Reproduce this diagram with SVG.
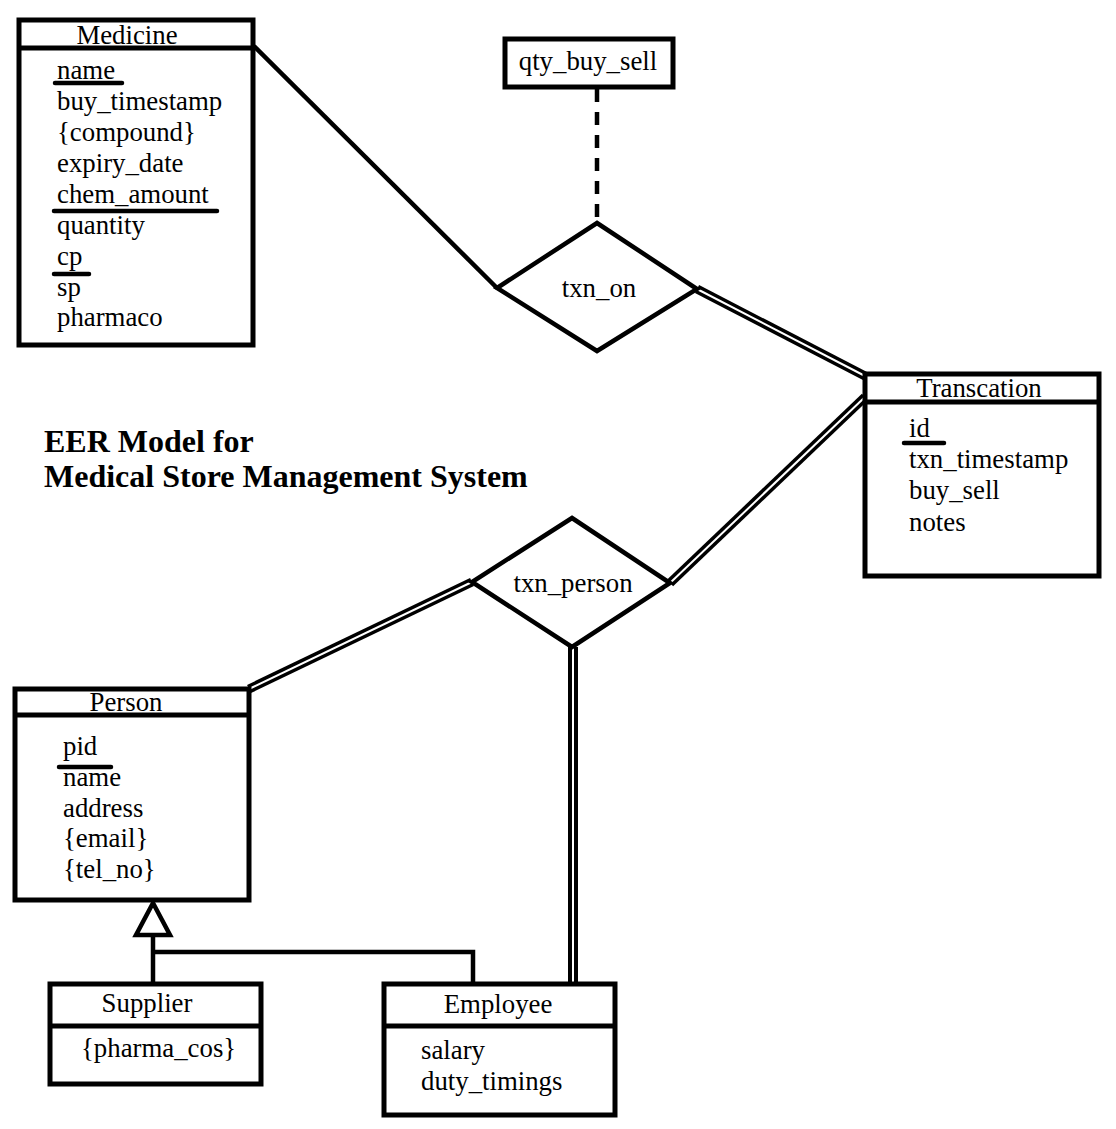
<svg xmlns="http://www.w3.org/2000/svg" width="1116" height="1129" viewBox="0 0 1116 1129">
<style>
.box{fill:#fff;stroke:#000;stroke-width:5}
.div{stroke:#000;stroke-width:5}
.rel{fill:#fff;stroke:#000;stroke-width:4.5;stroke-linejoin:miter}
.t{font-family:"Liberation Serif","Times New Roman",serif;font-size:26.8px;fill:#000}
.c{text-anchor:middle}
.ttl{font-family:"Liberation Serif","Times New Roman",serif;font-size:32px;font-weight:bold;fill:#000}
.ul{stroke:#000;stroke-width:4.5;stroke-linecap:round}
.line{stroke:#000;stroke-width:4.5;fill:none}
.dblo{stroke:#000;stroke-width:9;fill:none}
.dbli{stroke:#fff;stroke-width:2;fill:none}
.vo{stroke:#000;stroke-width:10;fill:none}
</style>
<rect width="1116" height="1129" fill="#fff"/>
<g id="connectors">
  <line class="line" x1="254" y1="46" x2="497" y2="288"/>
  <line class="line" x1="597" y1="89" x2="597" y2="223" stroke-width="5" stroke-dasharray="13,10"/>
  <line class="dblo" x1="697" y1="289" x2="865" y2="376"/>
  <line class="dbli" x1="697" y1="289" x2="865" y2="376"/>
  <line class="dblo" x1="865" y1="397" x2="670" y2="583"/>
  <line class="dbli" x1="865" y1="397" x2="670" y2="583"/>
  <line class="dblo" x1="249" y1="689" x2="472" y2="582"/>
  <line class="dbli" x1="249" y1="689" x2="472" y2="582"/>
  <line class="vo" x1="573" y1="647" x2="573" y2="984"/>
  <line class="dbli" x1="573" y1="647" x2="573" y2="984"/>
  <polyline class="line" points="153,935 153,984"/>
  <polyline class="line" points="153,952 473,952 473,984"/>
  <polygon class="rel" points="153,903 136,935 170,935"/>
</g>
<g id="medicine">
  <rect class="box" x="19" y="20" width="234" height="325"/>
  <line class="div" x1="19" y1="48" x2="253" y2="48"/>
  <text class="t c" x="127" y="44">Medicine</text>
  <text class="t" x="57" y="79">name</text>
  <line class="ul" x1="55" y1="83" x2="122" y2="83"/>
  <text class="t" x="57" y="110">buy_timestamp</text>
  <text class="t" x="57" y="141">{compound}</text>
  <text class="t" x="57" y="172">expiry_date</text>
  <text class="t" x="57" y="203">chem_amount</text>
  <line class="ul" x1="54" y1="211" x2="217" y2="211"/>
  <text class="t" x="57" y="234">quantity</text>
  <text class="t" x="57" y="265">cp</text>
  <line class="ul" x1="54" y1="274" x2="89" y2="274"/>
  <text class="t" x="57" y="296">sp</text>
  <text class="t" x="57" y="326">pharmaco</text>
</g>
<g id="qty_buy_sell">
  <rect class="box" x="505" y="39" width="168" height="48"/>
  <text class="t c" x="588" y="70">qty_buy_sell</text>
</g>
<g id="txn_on">
  <polygon class="rel" points="597,223 697,289 597,351 497,288"/>
  <text class="t c" x="599" y="297">txn_on</text>
</g>
<g id="transcation">
  <rect class="box" x="865" y="374" width="234" height="202"/>
  <line class="div" x1="865" y1="402" x2="1099" y2="402"/>
  <text class="t c" x="979" y="397">Transcation</text>
  <text class="t" x="909" y="437">id</text>
  <line class="ul" x1="904" y1="443" x2="944" y2="443"/>
  <text class="t" x="909" y="468">txn_timestamp</text>
  <text class="t" x="909" y="499">buy_sell</text>
  <text class="t" x="909" y="531">notes</text>
</g>
<g id="title">
  <text class="ttl" x="44" y="452">EER Model for</text>
  <text class="ttl" x="44" y="487">Medical Store Management System</text>
</g>
<g id="txn_person">
  <polygon class="rel" points="572,518 670,583 572,647 472,582"/>
  <text class="t c" x="573" y="592">txn_person</text>
</g>
<g id="person">
  <rect class="box" x="15" y="689" width="234" height="211"/>
  <line class="div" x1="15" y1="715" x2="249" y2="715"/>
  <text class="t c" x="126" y="711">Person</text>
  <text class="t" x="63" y="755">pid</text>
  <line class="ul" x1="59" y1="767" x2="111" y2="767"/>
  <text class="t" x="63" y="786">name</text>
  <text class="t" x="63" y="817">address</text>
  <text class="t" x="63" y="847">{email}</text>
  <text class="t" x="63" y="878">{tel_no}</text>
</g>
<g id="supplier">
  <rect class="box" x="50" y="984" width="211" height="100"/>
  <line class="div" x1="50" y1="1026" x2="261" y2="1026"/>
  <text class="t c" x="147" y="1012">Supplier</text>
  <text class="t" x="81" y="1057">{pharma_cos}</text>
</g>
<g id="employee">
  <rect class="box" x="384" y="984" width="231" height="131"/>
  <line class="div" x1="384" y1="1026" x2="615" y2="1026"/>
  <text class="t c" x="498" y="1013">Employee</text>
  <text class="t" x="421" y="1059">salary</text>
  <text class="t" x="421" y="1090">duty_timings</text>
</g>
</svg>
